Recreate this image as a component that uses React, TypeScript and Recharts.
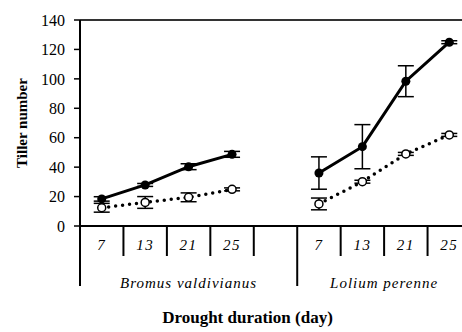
import React from "react";
import {
  LineChart,
  Line,
  XAxis,
  YAxis,
  ErrorBar,
  ReferenceLine,
} from "recharts";

// one slot per day, an empty slot between the two species
const days = ["7", "13", "21", "25", "", "7", "13", "21", "25"];
const species = ["Bromus valdivianus", "Lolium perenne"];
const speciesCenter = [2.5, 7];
const speciesEdges = [0, 5];

const solidValues = [18.4, 27.9, 40.3, 48.7, null, 36, 53.9, 98.4, 124.9];
const solidErrors = [1.5, 1, 2, 2, null, 11, 15, 10.5, 1];
const openValues = [12.4, 16, 19.5, 24.9, null, 15, 30.1, 49, 61.9];
const openErrors = [3, 4, 3, 1, null, 4, 1, 1, 1];

const yTicks = [0, 20, 40, 60, 80, 100, 120, 140];

const data = days.map((d, i) => ({
  x: i + 0.5,
  day: d,
  solid: solidValues[i],
  solidErr: solidErrors[i],
  open: openValues[i],
  openErr: openErrors[i],
}));

const xTicks: number[] = [];
for (let i = 0; i <= days.length; i++) {
  xTicks.push(i);
  if (i < days.length) xTicks.push(i + 0.5);
}

const FONT = '"Liberation Serif", "Times New Roman", serif';

function CategoryTick(props: any) {
  const { x, y, payload } = props;
  const v = payload.value as number;
  const out: React.ReactNode[] = [];
  if (Number.isInteger(v)) {
    const long = speciesEdges.includes(v);
    out.push(
      <line key="l" x1={x} x2={x} y1={y} y2={y + (long ? 60 : 30)} stroke="#000" strokeWidth={2} />
    );
  } else {
    const label = days[Math.floor(v)];
    out.push(
      <text key="t" x={x} y={y + 24} textAnchor="middle" style={{ fontFamily: FONT, fontStyle: "italic", fontSize: 15, letterSpacing: 1.5 }} fill="#000">
        {label}
      </text>
    );
  }
  const g = speciesCenter.indexOf(v);
  if (g >= 0) {
    out.push(
      <text key="g" x={x} y={y + 62} textAnchor="middle" style={{ fontFamily: FONT, fontStyle: "italic", fontSize: 15, letterSpacing: 1 }} fill="#000">
        {species[g]}
      </text>
    );
  }
  return <g>{out}</g>;
}

function OpenDot(props: any) {
  const { cx, cy } = props;
  if (cy == null) return <g />;
  return <circle cx={cx} cy={cy} r={4} fill="#fff" stroke="#000" strokeWidth={1.5} />;
}

function SolidDot(props: any) {
  const { cx, cy } = props;
  if (cy == null) return <g />;
  return <circle cx={cx} cy={cy} r={4.5} fill="#000" />;
}

export default function App() {
  return (
    <div style={{ position: "absolute", left: 0, top: 0, width: 462, height: 332, overflow: "hidden", background: "#fff", fontFamily: FONT }}>
      <LineChart width={471} height={332} data={data} margin={{ top: 20, right: 0, bottom: 0, left: 0 }}>
        <ReferenceLine y={140} stroke="#333" strokeWidth={2} />
        <XAxis
          dataKey="x"
          type="number"
          domain={[0, days.length]}
          ticks={xTicks}
          interval={0}
          allowDecimals
          height={106}
          tickSize={0}
          tickMargin={0}
          tick={<CategoryTick />}
          axisLine={{ stroke: "#000", strokeWidth: 2 }}
          label={{
            value: "Drought duration (day)",
            position: "insideBottom",
            offset: 9,
            dx: -28,
            style: { fontFamily: FONT, fontWeight: "bold", fontSize: 17, fill: "#000" },
          }}
        />
        <YAxis
          domain={[0, 140]}
          ticks={yTicks}
          interval={0}
          width={80}
          tickSize={6}
          tickMargin={9}
          tick={{ style: { fontFamily: FONT, fontSize: 16 }, fill: "#000" }}
          tickLine={{ stroke: "#000", strokeWidth: 1.5 }}
          axisLine={{ stroke: "#000", strokeWidth: 2 }}
          label={{
            value: "Tiller number",
            angle: -90,
            position: "insideLeft",
            offset: 22,
            style: { textAnchor: "middle", fontFamily: FONT, fontWeight: "bold", fontSize: 15, fill: "#000" },
          }}
        />
        <Line
          dataKey="open"
          stroke="#000"
          strokeWidth={3.5}
          strokeDasharray="0 7"
          strokeLinecap="round"
          dot={<OpenDot />}
          activeDot={false}
          isAnimationActive={false}
        >
          <ErrorBar dataKey="openErr" direction="y" width={8} stroke="#000" strokeWidth={1.5} />
        </Line>
        <Line
          dataKey="solid"
          stroke="#000"
          strokeWidth={3}
          dot={<SolidDot />}
          activeDot={false}
          isAnimationActive={false}
        >
          <ErrorBar dataKey="solidErr" direction="y" width={8} stroke="#000" strokeWidth={1.5} />
        </Line>
      </LineChart>
    </div>
  );
}
